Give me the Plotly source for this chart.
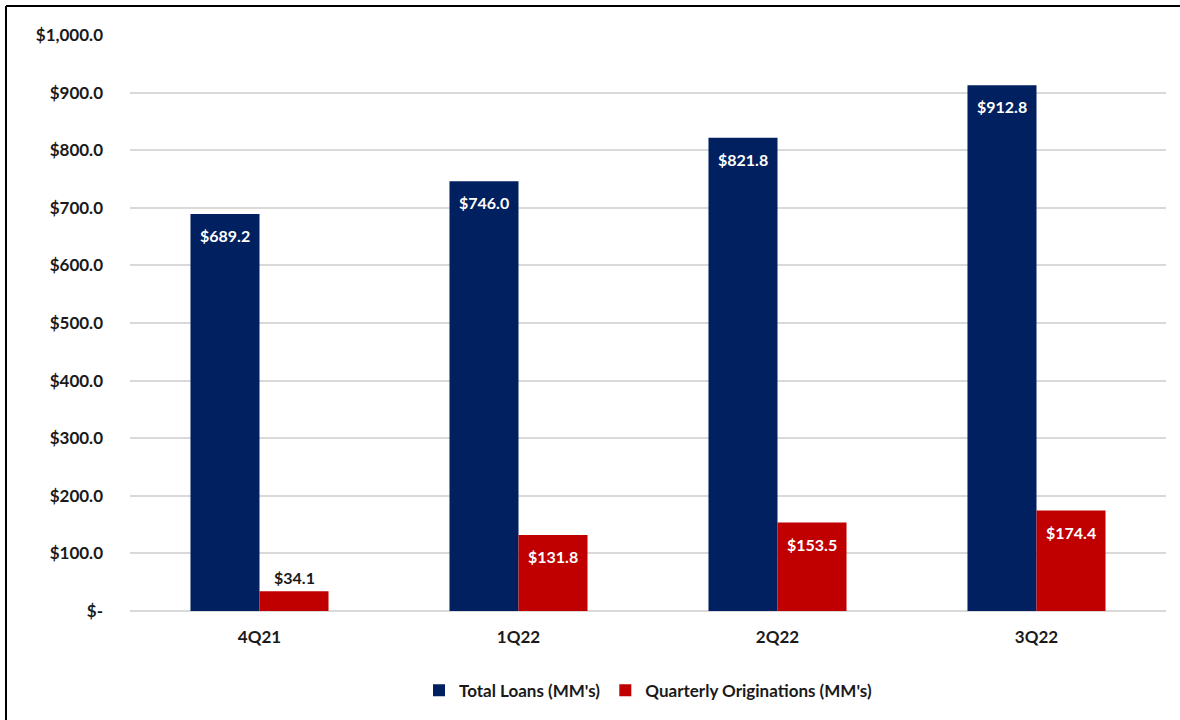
import plotly.graph_objects as go

categories = ["4Q21", "1Q22", "2Q22", "3Q22"]
total_loans = [689.2, 746.0, 821.8, 912.8]
originations = [34.1, 131.8, 153.5, 174.4]
tick_vals = [0, 100, 200, 300, 400, 500, 600, 700, 800, 900, 1000]
tick_text = ["$-", "$100.0", "$200.0", "$300.0", "$400.0", "$500.0",
             "$600.0", "$700.0", "$800.0", "$900.0", "$1,000.0"]

FONT = "Lato"
BAR_HALF = 34.5  # px offset of each bar centre from category centre

def lbl(v):
    return f"${v:,.1f}"

fig = go.Figure()
fig.add_trace(go.Bar(
    x=categories, y=total_loans, name="Total Loans (MM's)",
    marker=dict(color="#002060", line=dict(width=0)),
))
fig.add_trace(go.Bar(
    x=categories, y=originations, name="Quarterly Originations (MM's)",
    marker=dict(color="#C00000", line=dict(width=0)),
))

annotations = []
for c, v in zip(categories, total_loans):
    annotations.append(dict(x=c, y=v, xref="x", yref="y", text=lbl(v),
                            showarrow=False, xshift=-BAR_HALF, yanchor="top", yshift=-10,
                            font=dict(family=FONT, size=16, color="white", weight="bold")))
for c, v in zip(categories, originations):
    inside = v > 60
    annotations.append(dict(x=c, y=v, xref="x", yref="y", text=lbl(v),
                            showarrow=False, xshift=BAR_HALF,
                            yanchor="top" if inside else "bottom",
                            yshift=-10 if inside else 2,
                            font=dict(family=FONT, size=16,
                                      color="white" if inside else "#1a1a1a", weight="bold")))

fig.update_layout(
    width=1180, height=720,
    margin=dict(l=130, r=14, t=35, b=108),
    paper_bgcolor="white", plot_bgcolor="white",
    barmode="group", bargap=0.467, bargroupgap=0,
    font=dict(family=FONT, size=17, color="#1a1a1a"),
    legend=dict(orientation="h", x=0.5, xanchor="center", y=-0.105, yanchor="top",
                font=dict(family=FONT, size=17, color="#1a1a1a", weight="bold"),
                itemwidth=30, traceorder="normal"),
    xaxis=dict(showgrid=False, showline=False, ticks="", ticklabelstandoff=14,
               tickfont=dict(family=FONT, size=17, weight="bold")),
    yaxis=dict(range=[0, 1000], tickvals=tick_vals, ticktext=tick_text,
               showgrid=True, gridcolor="#d9d9d9", gridwidth=2,
               zeroline=True, zerolinecolor="#d9d9d9", zerolinewidth=2,
               ticks="", ticklabelstandoff=26,
               tickfont=dict(family=FONT, size=17, weight="bold")),
    annotations=annotations,
    shapes=[
        dict(type="line", xref="paper", yref="paper", x0=-0.1197, x1=1.1,
             y0=1.0503, y1=1.0503, line=dict(color="black", width=2)),
        dict(type="line", xref="paper", yref="paper", x0=-0.1197, x1=-0.1197,
             y0=-0.3, y1=1.0503, line=dict(color="black", width=2)),
    ],
)

fig.write_html("out.html")
